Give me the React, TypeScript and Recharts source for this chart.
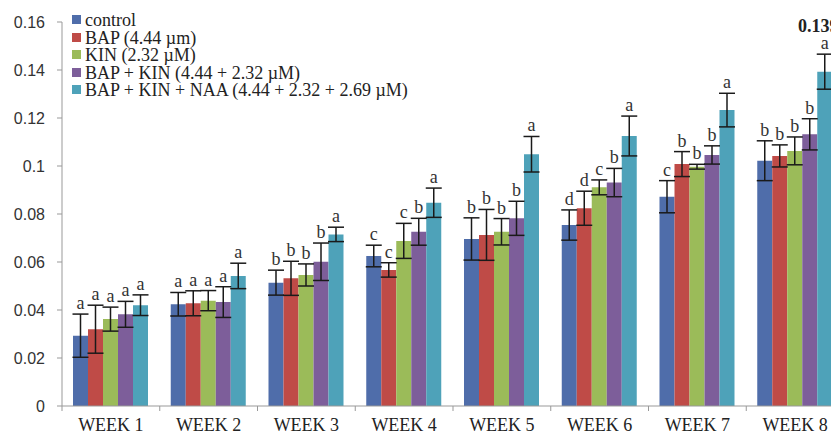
import { BarChart, Bar, XAxis, YAxis, ErrorBar, LabelList } from 'recharts';

const weeks = ['WEEK 1', 'WEEK 2', 'WEEK 3', 'WEEK 4', 'WEEK 5', 'WEEK 6', 'WEEK 7', 'WEEK 8'];

const control = [0.0293, 0.0424, 0.0514, 0.0625, 0.0696, 0.0754, 0.0872, 0.1022];
const controlErr = [0.009, 0.0049, 0.0052, 0.0045, 0.0088, 0.0063, 0.0067, 0.0083];
const controlSig = ['a', 'a', 'b', 'c', 'b', 'd', 'c', 'b'];

const bap = [0.032, 0.0428, 0.0532, 0.0567, 0.0713, 0.0824, 0.1008, 0.1042];
const bapErr = [0.01, 0.0052, 0.0071, 0.003, 0.0106, 0.0071, 0.0052, 0.0046];
const bapSig = ['a', 'a', 'b', 'c', 'b', 'd', 'b', 'b'];

const kin = [0.0362, 0.0439, 0.0546, 0.0688, 0.0726, 0.0911, 0.0997, 0.1063];
const kinErr = [0.005, 0.0042, 0.0046, 0.0073, 0.0055, 0.0031, 0.001, 0.0058];
const kinSig = ['a', 'a', 'b', 'c', 'b', 'c', 'b', 'b'];

const bapKin = [0.0382, 0.0433, 0.0601, 0.0726, 0.0782, 0.0931, 0.1046, 0.1132];
const bapKinErr = [0.0054, 0.0064, 0.0078, 0.0056, 0.0071, 0.0059, 0.0038, 0.0065];
const bapKinSig = ['a', 'a', 'b', 'b', 'b', 'b', 'b', 'b'];

const bapKinNaa = [0.042, 0.0542, 0.0715, 0.0847, 0.1049, 0.1125, 0.1233, 0.1393];
const bapKinNaaErr = [0.0043, 0.0053, 0.003, 0.0061, 0.0074, 0.0083, 0.007, 0.0073];
const bapKinNaaSig = ['a', 'a', 'a', 'a', 'a', 'a', 'a', 'a'];

const yTicks = [0, 0.02, 0.04, 0.06, 0.08, 0.1, 0.12, 0.14, 0.16];

const series = [
  { key: 'control', name: 'control', color: '#4F6DAA', values: control, errors: controlErr, sig: controlSig },
  { key: 'bap', name: 'BAP (4.44 µm)', color: '#BF4B47', values: bap, errors: bapErr, sig: bapSig },
  { key: 'kin', name: 'KIN (2.32 µM)', color: '#9BBB59', values: kin, errors: kinErr, sig: kinSig },
  { key: 'bapKin', name: 'BAP + KIN (4.44 + 2.32 µM)', color: '#7D5E9A', values: bapKin, errors: bapKinErr, sig: bapKinSig },
  { key: 'bapKinNaa', name: 'BAP + KIN + NAA (4.44 + 2.32 + 2.69 µM)', color: '#4EA2B9', values: bapKinNaa, errors: bapKinNaaErr, sig: bapKinNaaSig },
];

const data = weeks.map((week, i) => {
  const row: Record<string, string | number> = { week };
  series.forEach(s => {
    row[s.key] = s.values[i];
    row[s.key + 'Err'] = s.errors[i];
    row[s.key + 'Sig'] = s.sig[i];
  });
  return row;
});

const SERIF = '"Liberation Serif", "Times New Roman", serif';

function sigLabel(key: string) {
  return (props: any) => {
    const x = Number(props.x);
    const y = Number(props.y);
    const width = Number(props.width);
    const height = Number(props.height);
    const row = data[props.index];
    const v = row[key] as number;
    const err = row[key + 'Err'] as number;
    const errPx = v ? (err * height) / v : 0;
    return (
      <text x={x + width / 2} y={y - errPx - 5} textAnchor="middle" fontFamily={SERIF} fontSize={18} fill="#333">
        {props.value}
      </text>
    );
  };
}

function WeekTick(props: any) {
  const { x, y, payload } = props;
  const half = payload.offset || 48.9;
  return (
    <g>
      <line x1={x - half} x2={x - half} y1={y - 8} y2={y - 3} stroke="#999" />
      <text x={x} y={y + 17} textAnchor="middle" fontFamily={SERIF} fontSize={18} fill="#222">
        {payload.value}
      </text>
    </g>
  );
}

export default function App() {
  return (
    <div style={{ position: 'relative', width: 831, height: 435, overflow: 'hidden', background: '#fff' }}>
      <style>{'body{margin:0;overflow:hidden}'}</style>
      <BarChart
        width={850}
        height={435}
        data={data}
        margin={{ top: 22, right: 6, bottom: 0, left: 0 }}
        barCategoryGap={11}
        barGap={0}
      >
        <XAxis
          dataKey="week"
          height={29}
          tickLine={false}
          axisLine={{ stroke: '#999' }}
          tick={<WeekTick />}
          interval={0}
        />
        <YAxis
          width={62}
          domain={[0, 0.16]}
          ticks={yTicks}
          tickSize={5}
          tickMargin={12}
          axisLine={{ stroke: '#999' }}
          tickLine={{ stroke: '#999' }}
          tick={{ fill: '#333', fontSize: 16, fontFamily: '"Liberation Sans", Arial, sans-serif' }}
        />
        {series.map(s => (
          <Bar key={s.key} dataKey={s.key} name={s.name} fill={s.color} isAnimationActive={false}>
            <ErrorBar dataKey={s.key + 'Err'} width={8} stroke="#1a1a1a" strokeWidth={1.5} />
            <LabelList dataKey={s.key + 'Sig'} content={sigLabel(s.key)} />
          </Bar>
        ))}
      </BarChart>
      <div style={{ position: 'absolute', left: 72, top: 12, fontFamily: SERIF, fontSize: 18, lineHeight: '17.5px', color: '#222' }}>
        {series.map(s => (
          <div key={s.key} style={{ display: 'flex', alignItems: 'flex-start', whiteSpace: 'nowrap' }}>
            <span style={{ width: 9, height: 9, marginTop: 3, marginRight: 4, background: s.color, flex: 'none' }} />
            <span>{s.name}</span>
          </div>
        ))}
      </div>
      <div style={{ position: 'absolute', left: 798, top: 17, fontFamily: SERIF, fontSize: 18, lineHeight: '18px', fontWeight: 'bold', color: '#222', whiteSpace: 'nowrap' }}>
        0.139
      </div>
    </div>
  );
}
